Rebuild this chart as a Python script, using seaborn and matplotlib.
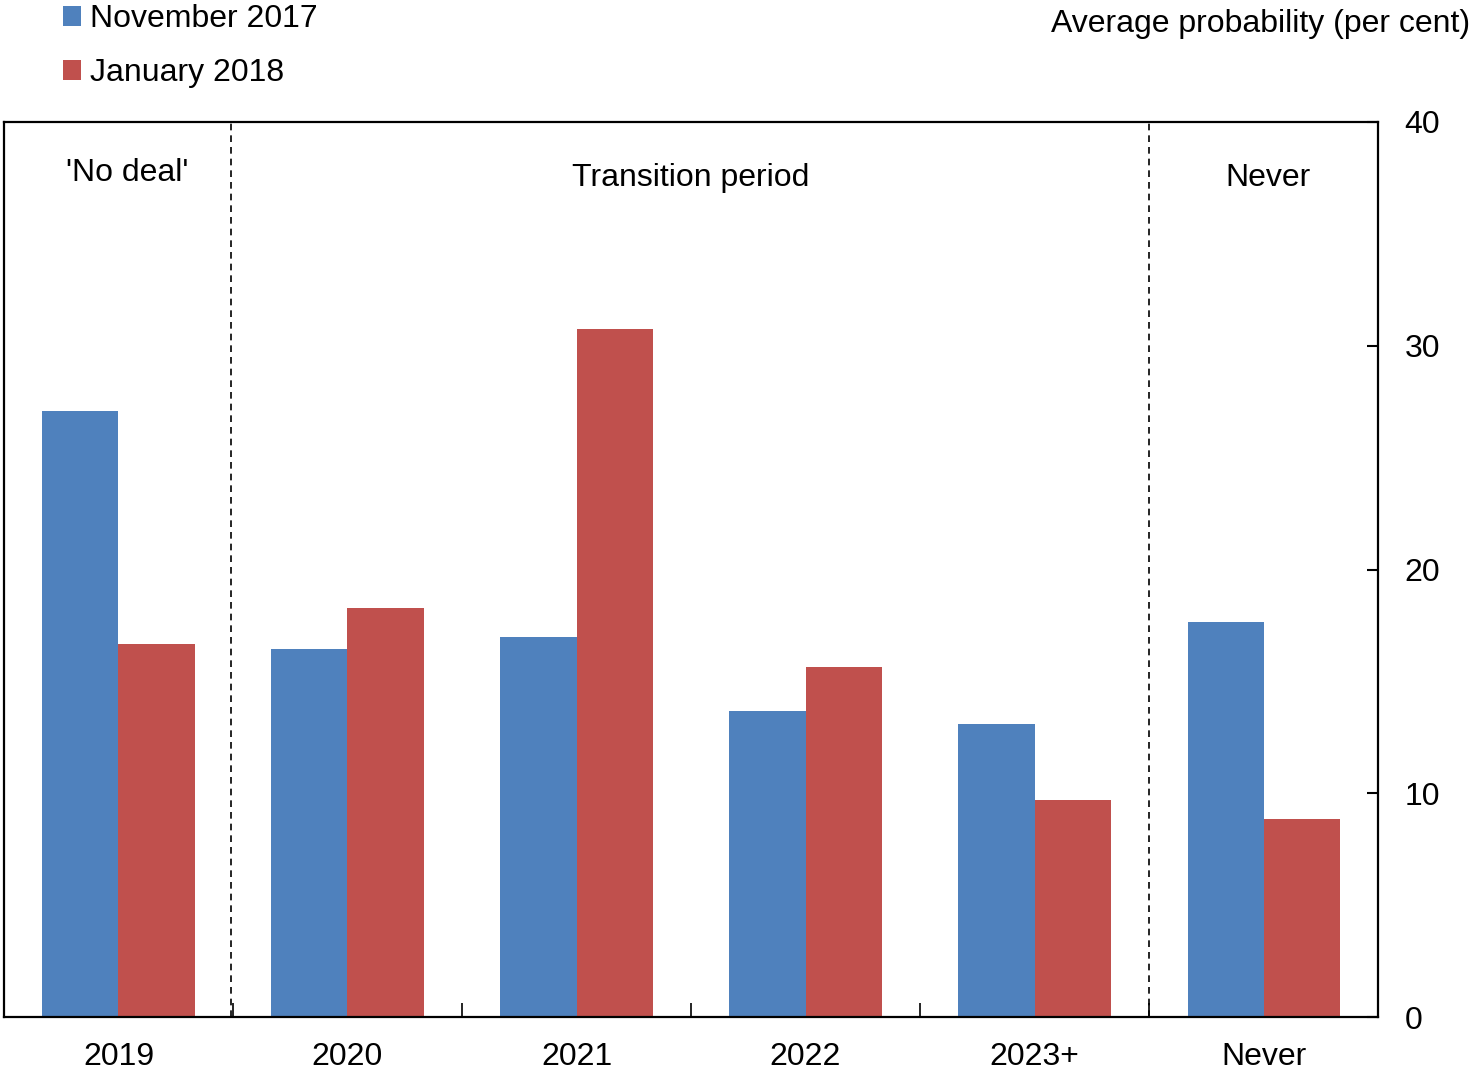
"""Average probability of leaving the EU transition by year, two survey waves."""

import matplotlib.pyplot as plt
import pandas as pd
import seaborn as sns
from matplotlib.ticker import FixedLocator

CATEGORIES = ["2019", "2020", "2021", "2022", "2023+", "Never"]
NOV_2017 = [27.1, 16.45, 16.98, 13.68, 13.09, 17.65]
JAN_2018 = [16.67, 18.28, 30.75, 15.64, 9.70, 8.85]
SERIES = ["November 2017", "January 2018"]
COLORS = ["#4F81BD", "#C0504D"]
REGIONS = [("'No deal'", 0.04, 37.7), ("Transition period", 2.5, 37.5), ("Never", 5.02, 37.5)]

FONT_SIZE = 23


def main() -> None:
    sns.set_theme(style="white")
    plt.rcParams["font.family"] = ["Liberation Sans", "DejaVu Sans"]
    plt.rcParams["text.color"] = "black"
    plt.rcParams["xtick.color"] = "black"
    plt.rcParams["ytick.color"] = "black"

    df = pd.DataFrame(
        {
            "category": CATEGORIES * 2,
            "value": NOV_2017 + JAN_2018,
            "series": [SERIES[0]] * len(CATEGORIES) + [SERIES[1]] * len(CATEGORIES),
        }
    )

    fig = plt.figure(figsize=(14.74, 10.71), dpi=100)
    ax = fig.add_axes([0.0027, 0.0504, 0.9322, 0.8357])

    sns.barplot(
        data=df,
        x="category",
        y="value",
        hue="series",
        order=CATEGORIES,
        hue_order=SERIES,
        palette=COLORS,
        width=0.664,
        saturation=1,
        linewidth=0,
        ax=ax,
    )

    ax.set_xlim(-0.5, len(CATEGORIES) - 0.5)
    ax.set_ylim(0, 40)
    ax.set_xlabel("")
    ax.set_ylabel("")

    for x in (0.49, 4.5):
        ax.axvline(x, color="black", linestyle=(0, (4, 3)), linewidth=1.2)

    for label, x, y in REGIONS:
        ax.text(x, y, label, ha="center", va="center", fontsize=FONT_SIZE, color="black")

    ax.yaxis.tick_right()
    ax.set_yticks([0, 10, 20, 30, 40])
    ax.tick_params(
        axis="y", which="major", direction="in", length=8, width=1.5,
        labelsize=FONT_SIZE, pad=19, right=True, left=False, colors="black",
    )
    ax.tick_params(axis="x", which="major", length=0, labelsize=FONT_SIZE, pad=18, colors="black")
    ax.xaxis.set_minor_locator(FixedLocator([0.5, 1.5, 2.5, 3.5, 4.5]))
    ax.tick_params(axis="x", which="minor", direction="in", length=10, width=1.2, bottom=True)

    for spine in ax.spines.values():
        spine.set_visible(True)
        spine.set_color("black")
        spine.set_linewidth(1.6)

    legend = ax.legend(
        loc="upper left",
        bbox_to_anchor=(0.0427, 0.0, 1, 0.996),
        bbox_transform=fig.transFigure,
        frameon=False,
        fontsize=FONT_SIZE,
        handlelength=0.55,
        handleheight=0.55,
        handletextpad=0.3,
        labelspacing=0.75,
        borderaxespad=0,
        borderpad=0,
    )
    for text in legend.get_texts():
        text.set_color("black")

    fig.text(0.9975, 0.978, "Average probability (per cent)", ha="right", va="center",
             fontsize=FONT_SIZE, color="black")

    fig.savefig("out.png", dpi=100)
    plt.close(fig)


if __name__ == "__main__":
    main()
